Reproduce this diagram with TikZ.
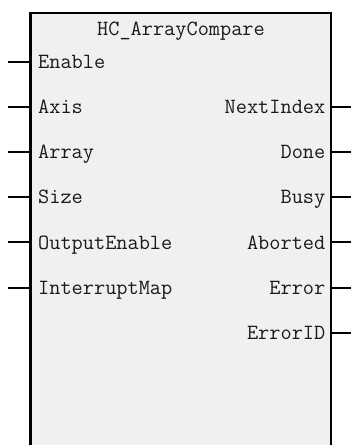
\documentclass[tikz,border=0pt]{standalone}
\definecolor{boxfill}{HTML}{F0F0F0}
\definecolor{lbl}{HTML}{1A1A1A}
\tikzset{
  pinlbl/.style={font=\ttfamily\fontsize{21.7}{24}\selectfont, text=lbl, inner sep=0pt},
  inlbl/.style={pinlbl, anchor=base west},
  outlbl/.style={pinlbl, anchor=base east},
  pinline/.style={line width=2pt},
}
\begin{document}
\begin{tikzpicture}[x=1pt,y=-1pt]
\useasboundingbox (0,0) rectangle (351,445);
\clip (0,0) rectangle (351,445);
\fill[boxfill] (30.5,13) rectangle (331,450);
\draw[line width=2.6pt] (30.5,450) -- (30.5,13) -- (331,13) -- (331,450);
\node[pinlbl, anchor=base] (title) at (181,35) {HC\_ArrayCompare};
% inputs
\foreach \name/\txt/\y in {en/Enable/61.5, ax/Axis/106.7, ar/Array/151.9, sz/Size/197.1, oe/OutputEnable/242.3, im/InterruptMap/287.5}{
  \node[inlbl] (\name) at (38,\y+6.8) {\txt};
  \coordinate (\name l) at (8,\y);
  \coordinate (\name b) at (30.5,\y);
  \draw[pinline] (\name l) -- (\name b);
}
% outputs
\foreach \name/\txt/\y in {ni/NextIndex/106.7, dn/Done/151.9, bs/Busy/197.1, ab/Aborted/242.3, er/Error/287.5, eid/ErrorID/332.7}{
  \node[outlbl] (\name) at (325.5,\y+6.8) {\txt};
  \coordinate (\name b) at (331,\y);
  \coordinate (\name r) at (351,\y);
  \draw[pinline] (\name b) -- (\name r);
}
\end{tikzpicture}
\end{document}
